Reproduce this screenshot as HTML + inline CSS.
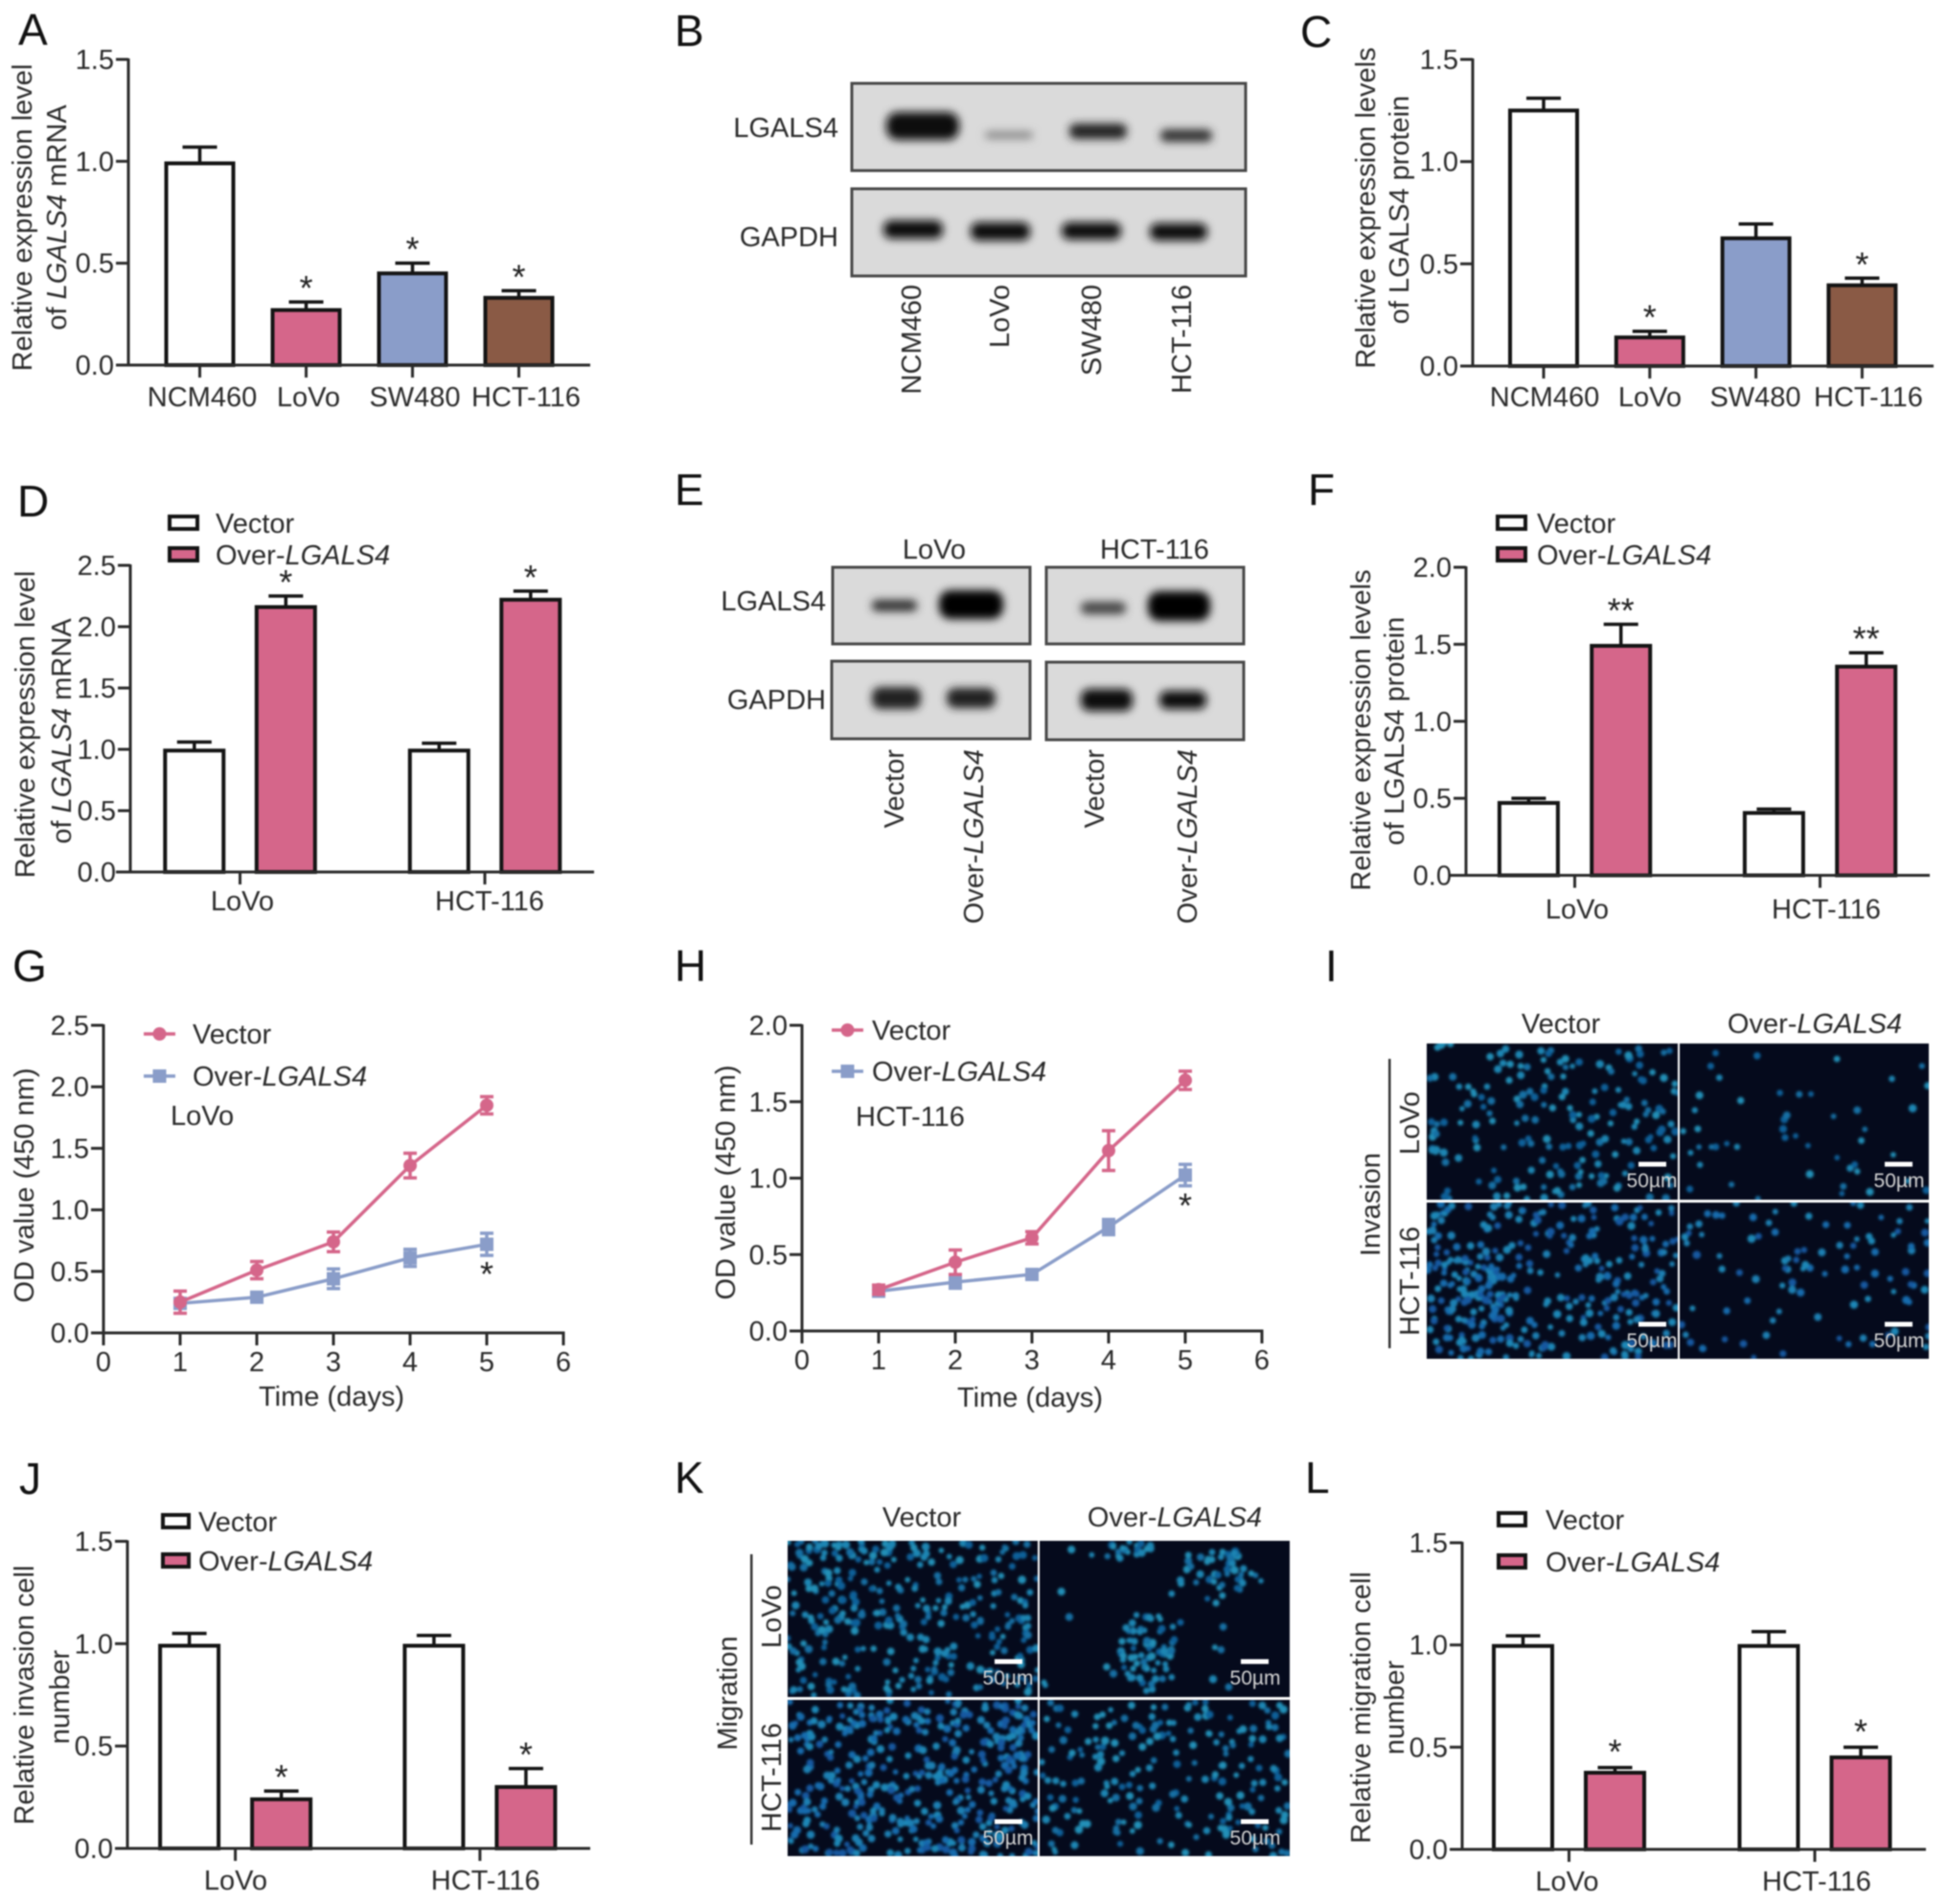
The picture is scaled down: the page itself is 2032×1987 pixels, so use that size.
<!DOCTYPE html>
<html lang="en">
<head>
<meta charset="utf-8">
<title>LGALS4 expression figure</title>
<style>
html,body{margin:0;padding:0;background:#fff;width:2032px;height:1987px;overflow:hidden}
svg{display:block;filter:blur(0.8px)}
text{font-family:"Liberation Sans",sans-serif;font-size:29px;fill:#2a2a2a}
.letter{font-size:46px;fill:#111}
.st{font-size:36px;fill:#222}
.sb{font-size:21px;fill:#d4d4d4}
.box{fill:#dadada;stroke:#484848;stroke-width:3}
.band{fill:#1c1c1c;filter:url(#bandBlur)}
</style>
</head>
<body>
<svg id="fig" xmlns="http://www.w3.org/2000/svg" width="2032" height="1987" viewBox="0 0 2032 1987">
<defs>
<filter id="bandBlur" x="-40%" y="-150%" width="180%" height="400%"><feGaussianBlur stdDeviation="4.5"/></filter>
<filter id="cellBlur" x="-5%" y="-5%" width="110%" height="110%"><feGaussianBlur stdDeviation="1.4"/></filter>
</defs>
<rect width="2032" height="1987" fill="#fff"/>

<g>
<text class="letter" x="19" y="47">A</text>
<text class="letter" x="704" y="48">B</text>
<text class="letter" x="1357" y="49">C</text>
<text class="letter" x="18" y="539">D</text>
<text class="letter" x="704" y="527">E</text>
<text class="letter" x="1365" y="527">F</text>
<text class="letter" x="13" y="1024">G</text>
<text class="letter" x="704" y="1024">H</text>
<text class="letter" x="1383" y="1024">I</text>
<text class="letter" x="20" y="1559">J</text>
<text class="letter" x="704" y="1558">K</text>
<text class="letter" x="1362" y="1558">L</text>
</g>

<g>
<rect class="box" x="889" y="87" width="411" height="91"/>
<rect class="band" x="925" y="117" width="76" height="29" rx="12" style="fill:#111"/>
<rect class="band" x="1028" y="137" width="50" height="8" rx="4" style="fill:#8a8a8a"/>
<rect class="band" x="1116" y="129" width="60" height="16" rx="7" style="fill:#222"/>
<rect class="band" x="1211" y="135" width="54" height="13" rx="6" style="fill:#333"/>
<rect class="box" x="889" y="197" width="411" height="91"/>
<rect class="band" x="922" y="230" width="62" height="19" rx="8" style="fill:#0c0c0c"/>
<rect class="band" x="1013" y="232" width="62" height="19" rx="8" style="fill:#0c0c0c"/>
<rect class="band" x="1108" y="232" width="62" height="18" rx="8" style="fill:#0c0c0c"/>
<rect class="band" x="1200" y="233" width="60" height="18" rx="8" style="fill:#0c0c0c"/>
<text x="875" y="143" text-anchor="end">LGALS4</text>
<text x="875" y="257" text-anchor="end">GAPDH</text>
<text transform="translate(961,297) rotate(-90)" text-anchor="end">NCM460</text>
<text transform="translate(1053,297) rotate(-90)" text-anchor="end">LoVo</text>
<text transform="translate(1149,297) rotate(-90)" text-anchor="end">SW480</text>
<text transform="translate(1243,297) rotate(-90)" text-anchor="end">HCT-116</text>
</g>

<g>
<rect class="box" x="869" y="592" width="206" height="80"/>
<rect class="box" x="1092" y="592" width="206" height="80"/>
<rect class="box" x="868" y="690" width="207" height="81"/>
<rect class="box" x="1092" y="691" width="206" height="81"/>
<rect class="band" x="910" y="626" width="47" height="12" rx="5" style="fill:#333"/>
<rect class="band" x="980" y="616" width="67" height="30" rx="12" style="fill:#050505"/>
<rect class="band" x="1128" y="628" width="47" height="13" rx="6" style="fill:#444"/>
<rect class="band" x="1198" y="617" width="65" height="31" rx="12" style="fill:#050505"/>
<rect class="band" x="910" y="717" width="51" height="23" rx="9" style="fill:#222"/>
<rect class="band" x="988" y="718" width="51" height="21" rx="9" style="fill:#222"/>
<rect class="band" x="1128" y="719" width="54" height="23" rx="9" style="fill:#080808"/>
<rect class="band" x="1210" y="721" width="49" height="19" rx="8" style="fill:#080808"/>
<text x="975" y="583" text-anchor="middle">LoVo</text>
<text x="1205" y="583" text-anchor="middle">HCT-116</text>
<text x="862" y="637" text-anchor="end">LGALS4</text>
<text x="862" y="740" text-anchor="end">GAPDH</text>
<text transform="translate(943,782) rotate(-90)" text-anchor="end">Vector</text>
<text transform="translate(1026,782) rotate(-90)" text-anchor="end">Over-<tspan font-style="italic">LGALS4</tspan></text>
<text transform="translate(1152,782) rotate(-90)" text-anchor="end">Vector</text>
<text transform="translate(1249,782) rotate(-90)" text-anchor="end">Over-<tspan font-style="italic">LGALS4</tspan></text>
</g>

<g id="micro"></g>

<g>
<text x="1629" y="1078" text-anchor="middle">Vector</text>
<text x="1894" y="1078" text-anchor="middle">Over-<tspan font-style="italic">LGALS4</tspan></text>
<rect x="1449" y="1105" width="2.5" height="302" fill="#333"/>
<text transform="translate(1440,1257) rotate(-90)" text-anchor="middle">Invasion</text>
<text transform="translate(1481,1172) rotate(-90)" text-anchor="middle">LoVo</text>
<text transform="translate(1481,1337) rotate(-90)" text-anchor="middle">HCT-116</text>
</g>
<g>
<text x="962" y="1593" text-anchor="middle">Vector</text>
<text x="1226" y="1593" text-anchor="middle">Over-<tspan font-style="italic">LGALS4</tspan></text>
<rect x="783" y="1622" width="2.5" height="303" fill="#333"/>
<text transform="translate(769,1767) rotate(-90)" text-anchor="middle">Migration</text>
<text transform="translate(815,1687) rotate(-90)" text-anchor="middle">LoVo</text>
<text transform="translate(815,1855) rotate(-90)" text-anchor="middle">HCT-116</text>
</g>

<g id="charts"></g>
</svg>

<script>
/* ---------- chart data ---------- */
const catsFour = ['NCM460', 'LoVo', 'SW480', 'HCT-116'];
const catsTwo = ['LoVo', 'HCT-116'];
const seriesNames = ['Vector', 'Over-'];

const aTicks = ['0.0', '0.5', '1.0', '1.5'];
const aValues = [0.99, 0.27, 0.45, 0.33];
const aErrors = [0.08, 0.04, 0.05, 0.035];
const aStars = ['', '*', '*', '*'];

const cTicks = ['0.0', '0.5', '1.0', '1.5'];
const cValues = [1.25, 0.14, 0.625, 0.395];
const cErrors = [0.06, 0.03, 0.07, 0.035];
const cStars = ['', '*', '', '*'];

const dTicks = ['0.0', '0.5', '1.0', '1.5', '2.0', '2.5'];
const dValues = [0.99, 2.16, 0.99, 2.22];
const dErrors = [0.07, 0.09, 0.06, 0.07];
const dStars = ['', '*', '', '*'];

const fTicks = ['0.0', '0.5', '1.0', '1.5', '2.0'];
const fValues = [0.47, 1.49, 0.405, 1.355];
const fErrors = [0.03, 0.14, 0.025, 0.09];
const fStars = ['', '**', '', '**'];

const jTicks = ['0.0', '0.5', '1.0', '1.5'];
const jValues = [0.99, 0.24, 0.99, 0.30];
const jErrors = [0.06, 0.04, 0.05, 0.09];
const jStars = ['', '*', '', '*'];

const lTicks = ['0.0', '0.5', '1.0', '1.5'];
const lValues = [0.995, 0.375, 0.995, 0.45];
const lErrors = [0.05, 0.025, 0.07, 0.05];
const lStars = ['', '*', '', '*'];

const days = [1, 2, 3, 4, 5];
const dayTicks = [0, 1, 2, 3, 4, 5, 6];

const gTicks = ['0.0', '0.5', '1.0', '1.5', '2.0', '2.5'];
const gVector = [0.25, 0.51, 0.74, 1.36, 1.85];
const gVectorErr = [0.09, 0.07, 0.08, 0.1, 0.07];
const gOver = [0.24, 0.29, 0.44, 0.61, 0.72];
const gOverErr = [0.02, 0.03, 0.08, 0.07, 0.09];

const hTicks = ['0.0', '0.5', '1.0', '1.5', '2.0'];
const hVector = [0.27, 0.45, 0.61, 1.18, 1.64];
const hVectorErr = [0.03, 0.08, 0.04, 0.13, 0.06];
const hOver = [0.26, 0.32, 0.37, 0.68, 1.02];
const hOverErr = [0.03, 0.04, 0.02, 0.05, 0.07];

/* ---------- helpers ---------- */
const NS = 'http://www.w3.org/2000/svg';
const PINK = '#d5668a', BLUE = '#8a9dc9', BROWN = '#8a5a45', INK = '#141414', AXIS = '#2a2a2a';
function mk(tag, attrs, parent, txt) {
  const n = document.createElementNS(NS, tag);
  for (const k in attrs) n.setAttribute(k, attrs[k]);
  if (txt !== undefined) n.textContent = txt;
  parent.appendChild(n);
  return n;
}
function line(p, x1, y1, x2, y2, color, w) {
  return mk('line', {x1: x1, y1: y1, x2: x2, y2: y2, stroke: color, 'stroke-width': w}, p);
}
function titleLines(g, lines) {
  lines.forEach(function (l) {
    const t = mk('text', {transform: 'translate(' + l.x + ',' + l.y + ') rotate(-90)', 'text-anchor': 'middle'}, g);
    
    
    l.parts.forEach(function (part) {
      mk('tspan', part[1] ? {'font-style': 'italic'} : {}, t, part[0]);
    });
  });
}
function yAxis(g, c, labels, maxV) {
  const ax = mk('g', {}, g);
  
  
  line(ax, c.x, c.top - 1, c.x, c.bottom + 1.5, AXIS, 3);
  labels.forEach(function (lab) {
    const y = c.bottom - (parseFloat(lab) / maxV) * (c.bottom - c.top);
    line(ax, c.x - 13, y, c.x, y, AXIS, 3);
    const t = mk('text', {x: c.x - 15, y: y + 10, 'text-anchor': 'end'}, ax, lab);
    
    
  });
}
function swatchLegend(g, c) {
  c.rows.forEach(function (r, i) {
    const lg = mk('g', {}, g);
    
    
    mk('rect', {x: c.x + 2, y: r - 7, width: c.w - 4, height: 13, fill: i ? PINK : '#fff', stroke: INK, 'stroke-width': 4}, lg);
    const t = mk('text', {x: c.tx, y: r + 10}, lg, i ? seriesNames[1] : seriesNames[0]);
    if (i) mk('tspan', {'font-style': 'italic'}, t, 'LGALS4');
  });
}
function barChart(c, cats, ticks, values, errors, stars, fills) {
  const g = mk('g', {}, document.getElementById('charts'));
  
  
  const yS = function (v) { return c.bottom - (v / c.max) * (c.bottom - c.top); };
  const starDy = c.starDy === undefined ? -2 : c.starDy;
  values.forEach(function (v, i) {
    const cx = c.xAt(i), top = yS(v), eTop = yS(v + errors[i]);
    const eb = line(g, cx, top, cx, eTop, INK, 3.5);
    
    
    const cap = line(g, cx - 18, eTop, cx + 18, eTop, INK, 3.5);
    
    
    const b = mk('rect', {x: cx - c.w / 2, y: top, width: c.w, height: c.bottom - top, fill: fills[i], stroke: INK, 'stroke-width': 4}, g);
    
    
    if (stars[i]) {
      const s = mk('text', {class: 'st', x: cx, y: eTop + starDy, 'text-anchor': 'middle'}, g, stars[i]);
      
      
    }
  });
  yAxis(g, c, ticks, c.max);
  const xa = line(g, c.xl, c.bottom, c.xr, c.bottom, AXIS, 3);
  
  
  cats.forEach(function (cat, i) {
    line(g, c.tickAt(i), c.bottom, c.tickAt(i), c.bottom + 13, AXIS, 3);
    const t = mk('text', {x: c.labelAt(i), y: c.bottom + c.labelDy, 'text-anchor': 'middle'}, g, cat);
    
    
  });
  titleLines(g, c.titles);
  if (c.legend) swatchLegend(g, c.legend);
}
function lineChart(c, ticks, vec, vecErr, over, overErr) {
  const g = mk('g', {}, document.getElementById('charts'));
  
  
  const yS = function (v) { return c.bottom - (v / c.max) * (c.bottom - c.top); };
  const xS = function (d) { return c.x + (d / 6) * (c.xr - c.x); };
  function series(vals, errs, color, square, nm) {
    const pl = mk('polyline', {points: vals.map(function (v, i) { return xS(days[i]) + ',' + yS(v); }).join(' '), fill: 'none', stroke: color, 'stroke-width': 3.5}, g);
    
    
    vals.forEach(function (v, i) {
      const x = xS(days[i]), up = yS(v + errs[i]), dn = yS(v - errs[i]);
      const eb = mk('path', {d: 'M' + (x - 7) + ' ' + up + 'H' + (x + 7) + 'M' + x + ' ' + up + 'V' + dn + 'M' + (x - 7) + ' ' + dn + 'H' + (x + 7), fill: 'none', stroke: color, 'stroke-width': 3.5}, g);
      
      
      const m = square
        ? mk('rect', {x: x - 7, y: yS(v) - 7, width: 14, height: 14, fill: color}, g)
        : mk('circle', {cx: x, cy: yS(v), r: 7, fill: color}, g);
      
      
    });
  }
  series(over, overErr, BLUE, true, 'over-lgals4');
  series(vec, vecErr, PINK, false, 'vector');
  yAxis(g, c, ticks, c.max);
  const xa = line(g, c.x - 1, c.bottom, c.xr + 1.5, c.bottom, AXIS, 3);
  
  
  dayTicks.forEach(function (d) {
    line(g, xS(d), c.bottom, xS(d), c.bottom + 13, AXIS, 3);
    const t = mk('text', {x: xS(d), y: c.bottom + 40, 'text-anchor': 'middle'}, g, d);
    
    
  });
  const xt = mk('text', {x: xS(3) - 2, y: c.bottom + c.xtDy, 'text-anchor': 'middle'}, g, 'Time (days)');
  
  
  titleLines(g, [{x: c.tx, y: c.ty, parts: [['OD value (450 nm)']]}]);
  const s = mk('text', {class: 'st', x: xS(5), y: yS(over[4] - overErr[4]) + c.starDy, 'text-anchor': 'middle'}, g, '*');
  
  
  /* legend */
  const l1 = mk('g', {}, g);
  
  
  line(l1, c.lx, c.ly1, c.lx + 33, c.ly1, PINK, 3.5);
  mk('circle', {cx: c.lx + 16.5, cy: c.ly1, r: 7, fill: PINK}, l1);
  mk('text', {x: c.ltx, y: c.ly1 + 10}, l1, seriesNames[0]);
  const l2 = mk('g', {}, g);
  
  
  line(l2, c.lx, c.ly2, c.lx + 33, c.ly2, BLUE, 3.5);
  mk('rect', {x: c.lx + 9.5, y: c.ly2 - 7, width: 14, height: 14, fill: BLUE}, l2);
  const t2 = mk('text', {x: c.ltx, y: c.ly2 + 10}, l2, seriesNames[1]);
  mk('tspan', {'font-style': 'italic'}, t2, 'LGALS4');
  const cl = mk('text', {x: c.cx, y: c.cy}, g, c.cellLine);
  
  
}

/* ---------- charts ---------- */
const fourFills = ['#fff', PINK, BLUE, BROWN];
const pairFills = ['#fff', PINK, '#fff', PINK];

barChart({name: 'chart-a', x: 134, top: 62, bottom: 381, xl: 121, xr: 616, max: 1.5, w: 70,
  xAt: function (i) { return 208.5 + i * 111; }, tickAt: function (i) { return 208.5 + i * 111; },
  labelAt: function (i) { return 211 + i * 111 + (i === 3 ? 5 : 0); }, labelDy: 43,
  titles: [{x: 33, y: 227, parts: [['Relative expression level']]},
           {x: 69, y: 227, parts: [['of '], ['LGALS4', 1], [' mRNA']]}]},
  catsFour, aTicks, aValues, aErrors, aStars, fourFills);

barChart({name: 'chart-c', x: 1537, top: 62, bottom: 382, xl: 1525, xr: 2018, max: 1.5, w: 70,
  xAt: function (i) { return 1611 + i * 110.8; }, tickAt: function (i) { return 1611 + i * 110.8; },
  labelAt: function (i) { return [1612, 1722, 1832, 1950][i]; }, labelDy: 42,
  titles: [{x: 1435, y: 217, parts: [['Relative expression levels']]},
           {x: 1470, y: 219, parts: [['of LGALS4 protein']]}]},
  catsFour, cTicks, cValues, cErrors, cStars, fourFills);

barChart({name: 'chart-d', x: 136, top: 590, bottom: 910, xl: 121, xr: 620, max: 2.5, w: 61,
  xAt: function (i) { return 202.8 + Math.floor(i / 2) * 255.5 + (i % 2) * 95.5; },
  tickAt: function (i) { return 250.5 + i * 255.5; }, labelAt: function (i) { return 253 + i * 258; }, labelDy: 40,
  legend: {x: 175, w: 33, tx: 225, rows: [546, 579]},
  titles: [{x: 36, y: 756, parts: [['Relative expression level']]},
           {x: 74, y: 763, parts: [['of '], ['LGALS4', 1], [' mRNA']]}]},
  catsTwo, dTicks, dValues, dErrors, dStars, pairFills);

barChart({name: 'chart-f', x: 1530, top: 592, bottom: 913.5, xl: 1512, xr: 2014, max: 2.0, w: 61,
  xAt: function (i) { return 1595.4 + Math.floor(i / 2) * 256 + (i % 2) * 96.3; },
  tickAt: function (i) { return 1643.5 + i * 256; }, labelAt: function (i) { return 1646 + i * 260; }, labelDy: 45,
  legend: {x: 1561, w: 33, tx: 1604, rows: [546, 579]},
  titles: [{x: 1430, y: 762, parts: [['Relative expression levels']]},
           {x: 1465, y: 763, parts: [['of LGALS4 protein']]}]},
  catsTwo, fTicks, fValues, fErrors, fStars, pairFills);

barChart({name: 'chart-j', x: 133, top: 1608.5, bottom: 1929, xl: 120, xr: 616, max: 1.5, w: 61,
  xAt: function (i) { return 197.6 + Math.floor(i / 2) * 255.3 + (i % 2) * 96; },
  tickAt: function (i) { return 245.6 + i * 255.3; }, labelAt: function (i) { return 246 + i * 260.7; }, labelDy: 43,
  legend: {x: 168, w: 31, tx: 207, rows: [1588, 1629]},
  titles: [{x: 35, y: 1769, parts: [['Relative invasion cell']]},
           {x: 72, y: 1771, parts: [['number']]}]},
  catsTwo, jTicks, jValues, jErrors, jStars, pairFills);

barChart({name: 'chart-l', x: 1526, top: 1610, bottom: 1930, xl: 1514, xr: 2010, max: 1.5, w: 61,
  xAt: function (i) { return 1589.5 + Math.floor(i / 2) * 256.5 + (i % 2) * 96; },
  tickAt: function (i) { return 1637.5 + i * 256.5; }, labelAt: function (i) { return 1635.5 + i * 260.5; }, labelDy: 43,
  starDy: -4,
  legend: {x: 1562, w: 32, tx: 1613, rows: [1586, 1630]},
  titles: [{x: 1430, y: 1782, parts: [['Relative migration cell']]},
           {x: 1465, y: 1782, parts: [['number']]}]},
  catsTwo, lTicks, lValues, lErrors, lStars, pairFills);

lineChart({name: 'chart-g', x: 108, xr: 588, top: 1070, bottom: 1391, max: 2.5, tx: 35, ty: 1237, starDy: 32, xtDy: 76,
  lx: 150, ly1: 1079, ly2: 1123, ltx: 201, cx: 178, cy: 1174, cellLine: 'LoVo'},
  gTicks, gVector, gVectorErr, gOver, gOverErr);

lineChart({name: 'chart-h', x: 837, xr: 1317, top: 1070, bottom: 1389, max: 2.0, tx: 767, ty: 1234, starDy: 33, xtDy: 79,
  lx: 868, ly1: 1075, ly2: 1118, ltx: 910, cx: 893, cy: 1175, cellLine: 'HCT-116'},
  hTicks, hVector, hVectorErr, hOver, hOverErr);

/* ---------- fluorescence micrographs (texture only, not data) ---------- */
function seeded(s) { return function () { s = (s * 1664525 + 1013904223) % 4294967296; return s / 4294967296; }; }
function micro(idx, x, y, w, h, count, seed, hue, clusters) {
  const root = document.getElementById('micro');
  const g = mk('g', {}, root);
  
  
  mk('rect', {x: x, y: y, width: w, height: h, fill: '#050a1c'}, g);
  const defs = mk('clipPath', {id: 'cp' + idx}, g);
  mk('rect', {x: x, y: y, width: w, height: h}, defs);
  const cells = mk('g', {'clip-path': 'url(#cp' + idx + ')'}, g);
  const blur = mk('g', {filter: 'url(#cellBlur)'}, cells);
  const r = seeded(seed);
  for (let i = 0; i < count; i++) {
    mk('circle', {cx: (x + r() * w).toFixed(1), cy: (y + r() * h).toFixed(1), r: (2.8 + r() * 1.5).toFixed(1), fill: hue[Math.floor(r() * hue.length)]}, blur);
  }
  (clusters || []).forEach(function (cl) {
    for (let i = 0; i < cl.n; i++) {
      const a = r() * 6.283, d = Math.sqrt(r());
      mk('circle', {cx: (cl.x + Math.cos(a) * d * cl.rx).toFixed(1), cy: (cl.y + Math.sin(a) * d * cl.ry).toFixed(1), r: (2.8 + r() * 1.5).toFixed(1), fill: hue[Math.floor(r() * hue.length)]}, blur);
    }
  });
}
function scaleBar(x, y, label, tx, ty) {
  const root = document.getElementById('micro');
  const b = mk('rect', {x: x, y: y - 2.5, width: 29, height: 5, fill: '#fff'}, root);
  
  
  const t = mk('text', {class: 'sb', x: tx, y: ty, 'text-anchor': 'middle'}, root, label);
  
  
}
const hues = ['#1c86b4', '#1570a4', '#2090b8', '#10609a'];
const hues2 = ['#186cae', '#1c80b4', '#1258a0', '#1e88b8'];
micro(1, 1489, 1089, 262, 163, 190, 11, hues);
micro(2, 1753, 1089, 260, 163, 48, 23, hues);
micro(3, 1489, 1255, 262, 163, 300, 37, hues2, [{x: 1545, y: 1340, rx: 40, ry: 45, n: 50}]);
micro(4, 1753, 1255, 260, 163, 100, 51, hues2);
micro(5, 822, 1608, 261, 163, 320, 67, hues);
micro(6, 1085, 1608, 261, 163, 30, 83, hues, [
  {x: 1200, y: 1725, rx: 32, ry: 44, n: 60}, {x: 1180, y: 1620, rx: 26, ry: 12, n: 22},
  {x: 1270, y: 1640, rx: 38, ry: 28, n: 42}]);
micro(7, 822, 1774, 261, 163, 420, 97, hues2);
micro(8, 1085, 1774, 261, 163, 210, 109, hues);
const umLabel = '50µm';
scaleBar(1710, 1215, umLabel, 1724, 1239);
scaleBar(1967, 1215, umLabel, 1982, 1239);
scaleBar(1710, 1382, umLabel, 1724, 1406);
scaleBar(1967, 1382, umLabel, 1982, 1406);
scaleBar(1038, 1734, umLabel, 1052, 1758);
scaleBar(1295, 1734, umLabel, 1310, 1758);
scaleBar(1038, 1901, umLabel, 1052, 1925);
scaleBar(1295, 1901, umLabel, 1310, 1925);
</script>
</body>
</html>
